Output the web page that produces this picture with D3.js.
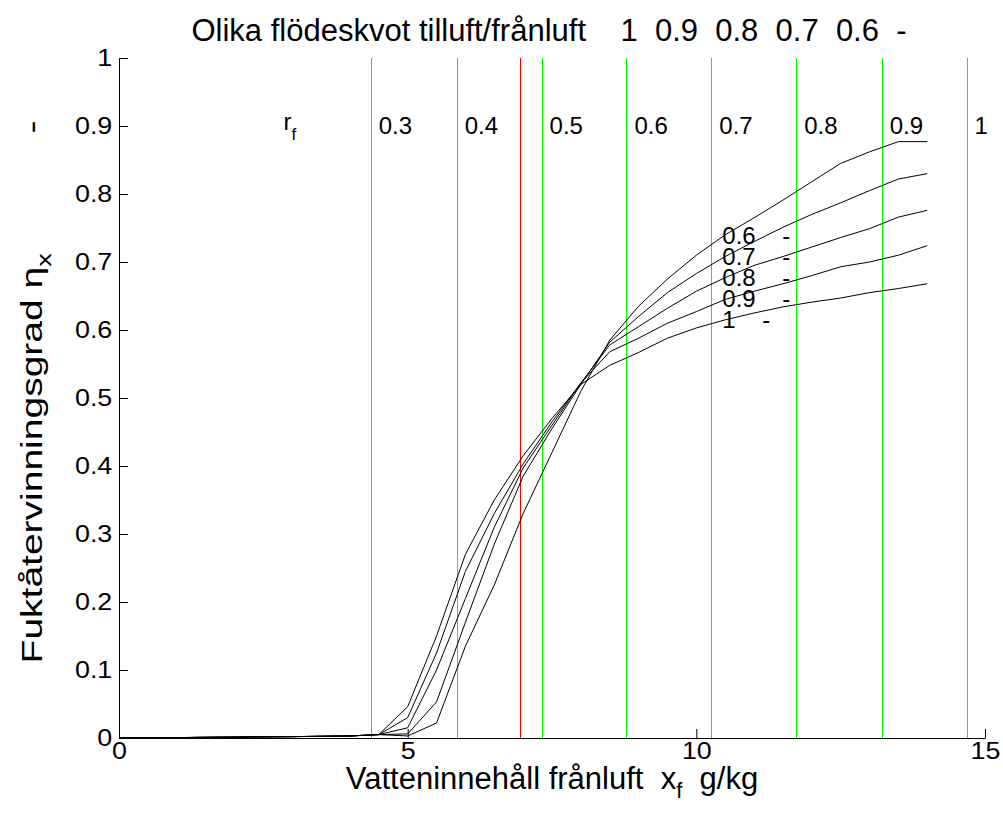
<!DOCTYPE html>
<html>
<head>
<meta charset="utf-8">
<script src="https://cdn.jsdelivr.net/npm/d3@7/dist/d3.min.js"></script>
<style>
  body { margin: 0; background: #fff; }
  svg { display: block; }
  text { font-family: "Liberation Sans", Arial, Helvetica, sans-serif; fill: #000; white-space: pre; }
</style>
</head>
<body>
<svg id="chart" width="1003" height="821"></svg>
<script>
// ---------------- data ----------------
const xValues = [0, 0.5, 1, 1.5, 2, 2.5, 3, 3.5, 4, 4.5,
                 5, 5.5, 6, 6.5, 7, 7.5, 8, 8.5, 9, 9.5,
                 10, 10.5, 11, 11.5, 12, 12.5, 13, 13.5, 14];

const flowRatios = ["1", "0.9", "0.8", "0.7", "0.6"];

const etaFlow1_0 = [0, 0.0003, 0.0006, 0.001, 0.0013, 0.0017, 0.002, 0.0025, 0.003, 0.005,
                    0.046, 0.15, 0.27, 0.35, 0.415, 0.47, 0.52, 0.548, 0.567, 0.588,
                    0.603, 0.615, 0.625, 0.634, 0.641, 0.647, 0.655, 0.661, 0.668];
const etaFlow0_9 = [0, 0.0003, 0.0006, 0.001, 0.0013, 0.0017, 0.002, 0.0025, 0.003, 0.005,
                    0.03, 0.125, 0.245, 0.33, 0.403, 0.465, 0.522, 0.568, 0.588, 0.61,
                    0.627, 0.645, 0.657, 0.668, 0.68, 0.693, 0.70, 0.71, 0.724];
const etaFlow0_8 = [0, 0.0003, 0.0006, 0.001, 0.0013, 0.0017, 0.002, 0.0025, 0.003, 0.005,
                    0.015, 0.10, 0.205, 0.31, 0.397, 0.46, 0.522, 0.578, 0.605, 0.632,
                    0.657, 0.677, 0.695, 0.708, 0.722, 0.736, 0.749, 0.766, 0.776];
const etaFlow0_7 = [0, 0.0003, 0.0006, 0.001, 0.0013, 0.0017, 0.002, 0.0025, 0.003, 0.005,
                    0.006, 0.053, 0.17, 0.285, 0.385, 0.455, 0.52, 0.582, 0.62, 0.655,
                    0.683, 0.708, 0.73, 0.751, 0.77, 0.787, 0.805, 0.822, 0.83];
const etaFlow0_6 = [0, 0.0003, 0.0006, 0.001, 0.0013, 0.0017, 0.002, 0.0025, 0.003, 0.005,
                    0.003, 0.022, 0.135, 0.225, 0.33, 0.42, 0.51, 0.585, 0.635, 0.675,
                    0.71, 0.74, 0.765, 0.791, 0.818, 0.845, 0.862, 0.877, 0.877];
const etaSeries = [etaFlow1_0, etaFlow0_9, etaFlow0_8, etaFlow0_7, etaFlow0_6];

// relative humidity (r_f) reference lines
const rfLabels = ["0.3", "0.4", "0.5", "0.6", "0.7", "0.8", "0.9", "1"];
const rfLineX  = [4.36, 5.85, 7.32, 8.79, 10.26, 11.73, 13.21, 14.68];
const limitLineX = [6.95];

// curve label anchor (data coords)
const curveLabelX = 10.45;
const curveLabelY = [0.62, 0.651, 0.682, 0.713, 0.744]; // for 1, 0.9, 0.8, 0.7, 0.6
const rfLabelY = 0.9;

const xTickValues = [0, 5, 10, 15];
const xTickLabels = ["0", "5", "10", "15"];
const yTickValues = [0, 0.1, 0.2, 0.3, 0.4, 0.5, 0.6, 0.7, 0.8, 0.9, 1];
const yTickLabels = ["0", "0.1", "0.2", "0.3", "0.4", "0.5", "0.6", "0.7", "0.8", "0.9", "1"];

// ---------------- layout ----------------
const svg = d3.select("#chart");
const W = 1003, H = 821;
svg.append("rect").attr("width", W).attr("height", H).attr("fill", "#fff");

const plot = { left: 119, right: 985, top: 58, bottom: 738 };
const x = d3.scaleLinear().domain([0, 15]).range([plot.left, plot.right]);
const y = d3.scaleLinear().domain([0, 1]).range([plot.bottom, plot.top]);

// vertical reference lines
const g = svg.append("g");
g.selectAll("line.rf").data(rfLineX).join("line")
  .attr("class", "rf")
  .attr("x1", d => Math.round(x(d)) + 0.5).attr("x2", d => Math.round(x(d)) + 0.5)
  .attr("y1", y(0)).attr("y2", y(1))
  .attr("stroke", "#00ff00").attr("stroke-width", 1);
g.selectAll("line.lim").data(limitLineX).join("line")
  .attr("class", "lim")
  .attr("x1", d => Math.round(x(d)) + 0.5).attr("x2", d => Math.round(x(d)) + 0.5)
  .attr("y1", y(0)).attr("y2", y(1))
  .attr("stroke", "#ff0000").attr("stroke-width", 1);

// curves
const line = d3.line().x((d, i) => x(xValues[i])).y(d => y(d));
g.selectAll("path.curve").data(etaSeries).join("path")
  .attr("class", "curve")
  .attr("d", d => line(d))
  .attr("fill", "none").attr("stroke", "#000").attr("stroke-width", 1);

// axes
const xAxis = d3.axisBottom(x).tickValues(xTickValues)
  .tickFormat((d, i) => xTickLabels[i]).tickSizeInner(-9).tickSizeOuter(0).tickPadding(4);
const yAxis = d3.axisLeft(y).tickValues(yTickValues)
  .tickFormat((d, i) => yTickLabels[i]).tickSizeInner(-9).tickSizeOuter(0).tickPadding(6);

const gx = svg.append("g").attr("transform", `translate(0,${plot.bottom})`).call(xAxis);
const gy = svg.append("g").attr("transform", `translate(${plot.left},0)`).call(yAxis);
[gx, gy].forEach(a => {
  a.select(".domain").attr("stroke", "#000");
  a.selectAll(".tick line").attr("stroke", "#000");
  a.selectAll(".tick text").attr("font-size", 24)
    .attr("font-family", '"Liberation Sans", Arial, sans-serif').attr("fill", "#000")
    .attr("transform", "scale(1.12,1)");
});

// r_f labels along the top
svg.selectAll("text.rfl").data(rfLabels).join("text")
  .attr("class", "rfl")
  .attr("x", (d, i) => x(rfLineX[i]) + 8)
  .attr("y", y(rfLabelY) + 8)
  .attr("font-size", 24)
  .text(d => d);
const rf = svg.append("text").attr("x", x(2.85)).attr("y", y(rfLabelY) + 4).attr("font-size", 24);
rf.append("tspan").text("r");
rf.append("tspan").attr("font-size", 17).attr("dy", 10).text("f");

// curve labels
svg.selectAll("text.cl").data(flowRatios).join("text")
  .attr("class", "cl")
  .attr("x", x(curveLabelX))
  .attr("y", (d, i) => y(curveLabelY[i]) + 12)
  .attr("font-size", 24)
  .text(d => d + "    -");

// title
svg.append("text")
  .attr("x", (plot.left + plot.right) / 2 - 3)
  .attr("y", 41)
  .attr("text-anchor", "middle")
  .attr("font-size", 31)
  .text("Olika flödeskvot tilluft/frånluft    " + flowRatios.join("  ") + "  -");

// x axis label
const xl = svg.append("text")
  .attr("x", (plot.left + plot.right) / 2)
  .attr("y", 789)
  .attr("text-anchor", "middle")
  .attr("font-size", 31);
xl.append("tspan").text("Vatteninnehåll frånluft  x");
xl.append("tspan").attr("font-size", 22).attr("dy", 9).text("f");
xl.append("tspan").attr("dy", -9).text("  g/kg");

// y axis label
const yl = svg.append("text")
  .attr("transform", `translate(42,${(plot.top + plot.bottom) / 2 - 6}) rotate(-90) scale(1.3,1)`)
  .attr("text-anchor", "middle")
  .attr("font-size", 30);
yl.append("tspan").text("Fuktåtervinningsgrad η");
yl.append("tspan").attr("font-size", 21).attr("dy", 9).text("x");
yl.append("tspan").attr("dy", -9).attr("dx", 92).text("-");
</script>
</body>
</html>
